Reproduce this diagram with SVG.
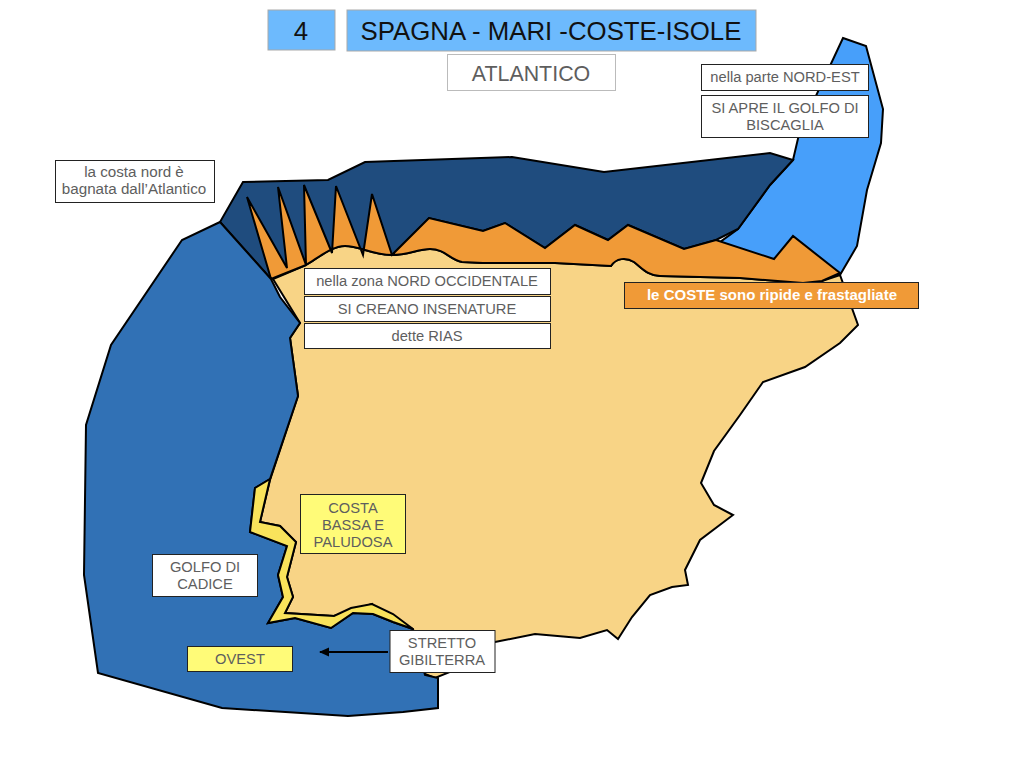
<svg xmlns="http://www.w3.org/2000/svg" width="1024" height="768" viewBox="0 0 1024 768">
<style>
.s{stroke:#000;stroke-width:2;stroke-linejoin:miter}
.b{stroke:#222;stroke-width:1;fill:#fff}
.t{font-family:"Liberation Sans",Arial,sans-serif;font-size:14.700px;fill:#5e5e5e;text-anchor:middle}
</style>
<defs><marker id="ah" markerWidth="12" markerHeight="10" refX="9" refY="4.500" orient="auto" markerUnits="userSpaceOnUse"><path d="M0 0L10 4.500L0 9Z" fill="#000"/></marker></defs>
<rect width="1024" height="768" fill="#fff"/>
<g id="mappa">
<path id="mare-nordest" class="s" fill="#479ffa" d="M843 38L866 46L883 109L881 143L867 190L857 246L840 275L760 270L716 245L738 229L770 185L793 160L800 130Z"/>
<path id="atlantico-nord" class="s" fill="#1f4c7e" d="M243 182L328 180L365 162L512 157L604 172L770 153L793 160L770 185L738 229L716 240L684 249L628 225L608 240L575 225L545 248L505 223L483 231L429 218L392 255L271 279L220 222Z"/>
<path id="spagna" class="s" fill="#f8d486" d="M273 279L306 265C318 258 332 246 345 246C360 246 372 255 392 255C408 255 418 249 430 249C445 249 450 260 462 262L483 263L555 263L611 266C616 258 626 257 634 262C642 268 648 276 660 276L740 278L803 283L822 281L840 275L858 325L840 343L805 367L763 382L740 415L714 451L701 483L714 505L733 515L700 540L685 570L688 585L672 587L650 595L632 617L618 639L607 630L580 638L535 634L480 645L455 670L435 678L420 672L400 640L372 604L334 616L285 613L293 597L287 577L296 542L280 526L260 522L270 480L298 396L290 338L300 323Z"/>
<path id="coste" class="s" fill="#f09a37" d="M271 279L247 197L287 268L278 187L306 265L304 185L332 253L336 186L363 255L372 194L392 255L429 218L483 231L505 223L545 248L575 225L608 240L628 225L684 249L716 240L774 259L793 236L840 273L822 281L803 283L740 278L660 276C648 276 642 268 634 262C626 257 616 258 611 266L555 263L483 263L462 262C450 260 445 249 430 249C418 249 408 255 392 255C372 255 360 246 345 246C332 246 318 258 306 265Z"/>
<path id="oceano" class="s" fill="#3171b5" d="M220 222L182 240L111 345L86 425L84 575L98 673L222 708L348 716L403 712L438 708L438 678L425 675L413 629L393 622L373 614L353 613L331 628L295 618L268 623L283 597L278 575L287 546L250 532L255 488L270 479L298 396L290 338L300 323L280 297L271 279Z"/>
<path id="costa-bassa" class="s" fill="#f9e35b" d="M270 479L255 488L250 532L287 546L278 575L283 597L268 623L295 618L331 628L353 613L373 614L393 622L413 629L393 614L372 604L351 608L334 616L285 613L293 597L287 577L296 542L280 526L260 522Z"/>
</g>
<g id="connettori"><line x1="388" y1="652" x2="320" y2="652" stroke="#000" stroke-width="2" marker-end="url(#ah)"/></g>
<g id="n-numero"><rect x="268" y="10" width="67" height="40" fill="#6dbafd" stroke="#a9a9a9"/><text class="t" x="301" y="40" style="font-size:25.800px;fill:#111">4</text></g>
<g id="n-titolo"><rect x="347" y="10" width="409" height="41" fill="#6dbafd" stroke="#a9a9a9"/><text class="t" x="551" y="40" style="font-size:25.800px;fill:#111">SPAGNA - MARI -COSTE-ISOLE</text></g>
<g id="n-atlantico"><rect x="447.500" y="54.500" width="168" height="36" fill="#fff" stroke="#bbb"/><text class="t" x="531" y="81" style="font-size:21.400px">ATLANTICO</text></g>
<g id="n-nordest"><rect class="b" x="701.500" y="64.500" width="167" height="26"/><text class="t" x="785" y="82">nella parte NORD-EST</text></g>
<g id="n-biscaglia"><rect class="b" x="701.500" y="95.500" width="167" height="42"/><text class="t" x="785" y="113">SI APRE IL GOLFO DI</text><text class="t" x="785" y="130">BISCAGLIA</text></g>
<g id="n-costanord"><rect class="b" x="55.500" y="160.500" width="159" height="42"/><text class="t" x="134" y="177" style="font-size:15.200px">la costa nord è</text><text class="t" x="134" y="194" style="font-size:15.200px">bagnata dall’Atlantico</text></g>
<g id="n-zona"><rect class="b" x="304.500" y="268.500" width="246" height="26"/><text class="t" x="427" y="286">nella zona NORD OCCIDENTALE</text></g>
<g id="n-insenature"><rect class="b" x="304.500" y="296.500" width="246" height="25"/><text class="t" x="427" y="314">SI CREANO INSENATURE</text></g>
<g id="n-rias"><rect class="b" x="304.500" y="323.500" width="246" height="25"/><text class="t" x="427" y="341">dette RIAS</text></g>
<g id="n-coste"><rect x="624.500" y="282.500" width="294" height="26" fill="#f09a37" stroke="#222"/><text class="t" x="772" y="300" style="fill:#fff;font-weight:bold;font-size:15px">le COSTE sono ripide e frastagliate</text></g>
<g id="n-costabassa"><rect x="300.500" y="494.500" width="105" height="59" fill="#fffb78" stroke="#222"/><text class="t" x="353" y="513">COSTA</text><text class="t" x="353" y="530">BASSA E</text><text class="t" x="353" y="547">PALUDOSA</text></g>
<g id="n-golfo"><rect class="b" x="152.500" y="554.500" width="105" height="42"/><text class="t" x="205" y="572">GOLFO DI</text><text class="t" x="205" y="589">CADICE</text></g>
<g id="n-ovest"><rect x="187.500" y="646.500" width="105" height="25" fill="#fffb78" stroke="#222"/><text class="t" x="240" y="664">OVEST</text></g>
<g id="n-stretto"><rect class="b" x="390" y="630.500" width="105" height="42"/><text class="t" x="442" y="648">STRETTO</text><text class="t" x="442" y="665">GIBILTERRA</text></g>
</svg>
